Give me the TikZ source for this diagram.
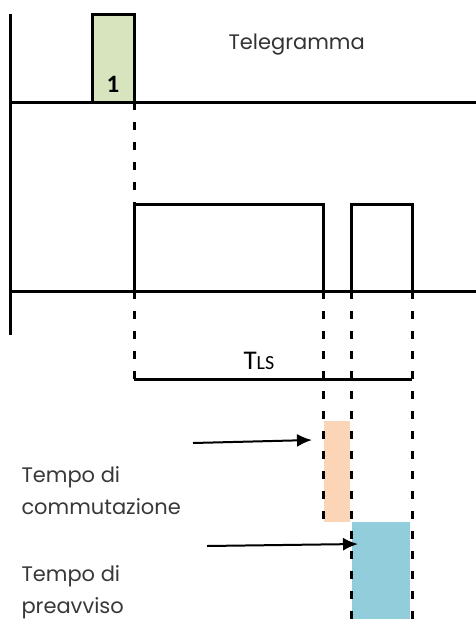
\documentclass[tikz,border=0pt]{standalone}
\usepackage{fontspec}
\setmainfont{Poppins}
\newfontfamily\calibri{Carlito}
\usetikzlibrary{arrows.meta}
\definecolor{telgreen}{HTML}{D7E4BD}
\definecolor{commorange}{HTML}{FBD5B5}
\definecolor{prevblue}{HTML}{92CDDC}
\begin{document}
\begin{tikzpicture}[x=1pt, y=-1pt, line width=3pt,
    guide/.style={line width=3pt, dash pattern=on 8pt off 12pt},
    pointer/.style={line width=2pt, -{Latex[length=15pt, width=13pt]}},
    lbl/.style={font=\fontsize{21}{32}\selectfont, text=black!78, inner sep=0pt, align=left, anchor=base west}]
    \useasboundingbox (0,0) rectangle (476,619);
    % colored intervals
    \fill[commorange] (324,421) rectangle (350,522);
    \fill[prevblue] (352,522) rectangle (410,619);
    % axes
    \draw (10,14) -- (10,335);
    \draw (10,102) -- (476,102);
    \draw (10,291) -- (476,291);
    % telegram
    \draw[fill=telgreen] (92,102) rectangle (134,14);
    \node[font=\calibri\bfseries\fontsize{25}{30}\selectfont, inner sep=0pt, anchor=base] (one) at (113,92) {1};
    \node[font=\fontsize{21}{26}\selectfont, text=black!80, inner sep=0pt, anchor=base west] (tel) at (227,49) {Telegramma};
    % output
    \draw (134,291) -- (134,204) -- (323,204) -- (323,291);
    \draw (351,291) -- (351,204) -- (412,204) -- (412,291);
    % dashed guides
    \draw[guide] (134,102) -- (134,204);
    \draw[guide] (134,291) -- (134,379);
    \draw[guide] (323,291) -- (323,522);
    \draw[guide] (351,291) -- (351,619);
    \draw[guide] (412,291) -- (412,619);
    % TLS
    \draw (134,379) -- (412,379);
    \node[font=\calibri\fontsize{27}{30}\selectfont, inner sep=0pt, anchor=base west] (tls) at (242,369) {T{\fontsize{20}{24}\selectfont LS}};
    % labels
    \node[lbl] (comm) at (20,514) {Tempo di\\commutazione};
    \node[lbl] (prev) at (20,613) {Tempo di\\preavviso};
    \coordinate (commtail) at (193,443);
    \coordinate (commtip) at (312,440);
    \coordinate (prevtail) at (207,546);
    \coordinate (prevtip) at (358,544);
    \draw[pointer] (commtail) -- (commtip);
    \draw[pointer] (prevtail) -- (prevtip);
\end{tikzpicture}
\end{document}
